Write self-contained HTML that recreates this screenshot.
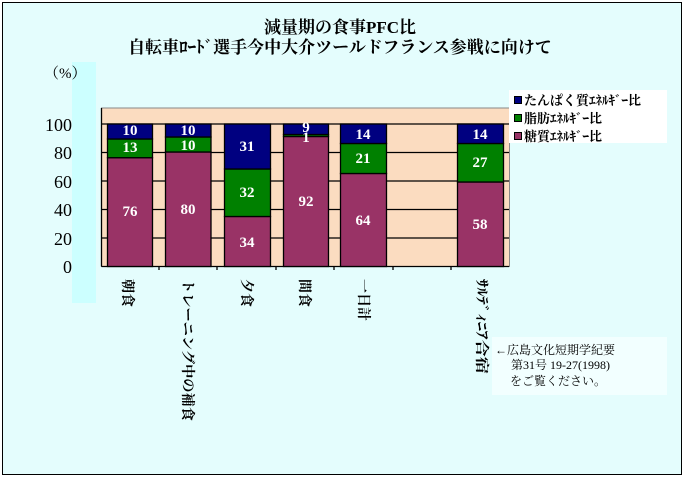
<!DOCTYPE html>
<html><head><meta charset="utf-8"><style>
html,body{margin:0;padding:0;background:#fff}
svg{display:block}
text{font-family:"Liberation Serif","Noto Serif CJK SC","Noto Sans CJK JP",serif}
.v{fill:#fff;font-size:15px;font-weight:bold;text-anchor:middle}
.ax{font-size:18px;text-anchor:end;fill:#000}
.cat{font-family:"Liberation Sans","Noto Sans CJK JP",sans-serif;font-size:14px;font-weight:bold;fill:#000}
</style></head><body>
<svg width="684" height="478" viewBox="0 0 684 478" xmlns="http://www.w3.org/2000/svg">
<rect x="0" y="0" width="684" height="478" fill="#fff"/>
<rect x="2.5" y="2.5" width="679" height="472" fill="#e4fdfd" stroke="#000" stroke-width="1"/>
<rect x="72" y="62" width="24" height="241" fill="#ccffff"/>
<text x="340" y="33" font-size="17" font-weight="bold" text-anchor="middle" font-family="Liberation Sans,Noto Sans CJK JP,sans-serif">減量期の食事PFC比</text>
<text x="340" y="53" font-size="17" font-weight="bold" text-anchor="middle" font-family="Liberation Sans,Noto Sans CJK JP,sans-serif">自転車ﾛｰﾄﾞ選手今中大介ツールドフランス参戦に向けて</text>
<text x="44" y="78" font-size="15" font-family="Liberation Sans,Noto Sans CJK JP,sans-serif">（%）</text>
<rect x="101.5" y="108" width="408" height="158.5" fill="#fbdcc0" stroke="#888" stroke-width="1"/>
<g stroke="#000" stroke-width="1.3">
<line x1="101.5" y1="124" x2="509" y2="124"/>
<line x1="101.5" y1="152.5" x2="509" y2="152.5"/>
<line x1="101.5" y1="181" x2="509" y2="181"/>
<line x1="101.5" y1="209.5" x2="509" y2="209.5"/>
<line x1="101.5" y1="238" x2="509" y2="238"/>
<line x1="101.5" y1="108" x2="101.5" y2="266.5"/>
<line x1="101.5" y1="266.5" x2="509" y2="266.5"/>
<line x1="159" y1="266" x2="159" y2="270"/><line x1="217" y1="266" x2="217" y2="270"/>
<line x1="276" y1="266" x2="276" y2="270"/><line x1="334" y1="266" x2="334" y2="270"/>
<line x1="393" y1="266" x2="393" y2="270"/><line x1="451" y1="266" x2="451" y2="270"/>
</g>
<g stroke="#000" stroke-width="1.3">
<rect x="107.5" y="157.7" width="45" height="108.8" fill="#993366"/>
<rect x="107.5" y="139" width="45" height="18.7" fill="#008000"/>
<rect x="107.5" y="124" width="45" height="15" fill="#000080"/>
<rect x="165.5" y="152" width="45.5" height="114.5" fill="#993366"/>
<rect x="165.5" y="137" width="45.5" height="15" fill="#008000"/>
<rect x="165.5" y="124" width="45.5" height="13" fill="#000080"/>
<rect x="224.5" y="216.5" width="46" height="50" fill="#993366"/>
<rect x="224.5" y="169" width="46" height="47.5" fill="#008000"/>
<rect x="224.5" y="124" width="46" height="45" fill="#000080"/>
<rect x="283.5" y="136.5" width="45" height="130" fill="#993366"/>
<rect x="283.5" y="134.5" width="45" height="2" fill="#008000"/>
<rect x="283.5" y="124" width="45" height="10.5" fill="#000080"/>
<rect x="340.5" y="173.5" width="46" height="93" fill="#993366"/>
<rect x="340.5" y="143.5" width="46" height="30" fill="#008000"/>
<rect x="340.5" y="124" width="46" height="19.5" fill="#000080"/>
<rect x="457.5" y="182" width="46" height="84.5" fill="#993366"/>
<rect x="457.5" y="143.5" width="46" height="38.5" fill="#008000"/>
<rect x="457.5" y="124" width="46" height="19.5" fill="#000080"/>
</g>
<g class="v">
<text x="130" y="135">10</text><text x="130" y="152">13</text><text x="130" y="216">76</text>
<text x="188" y="135">10</text><text x="188" y="150">10</text><text x="188" y="214">80</text>
<text x="247" y="151">31</text><text x="247" y="197">32</text><text x="247" y="247">34</text>
<text x="306" y="132">9</text><text x="306" y="142">1</text><text x="306" y="206">92</text>
<text x="363" y="139">14</text><text x="363" y="163">21</text><text x="363" y="225">64</text>
<text x="480" y="139">14</text><text x="480" y="167">27</text><text x="480" y="229">58</text>
</g>
<g class="ax">
<text x="72" y="131">100</text><text x="72" y="159">80</text><text x="72" y="188">60</text>
<text x="72" y="216">40</text><text x="72" y="245">20</text><text x="72" y="273">0</text>
</g>
<rect x="509" y="90" width="158" height="53" fill="#fff"/>
<g font-size="13" font-weight="bold" font-family="Liberation Sans,Noto Sans CJK JP,sans-serif">
<rect x="514.5" y="96.5" width="7" height="7" fill="#000080" stroke="#000"/>
<text x="524" y="105">たんぱく質ｴﾈﾙｷﾞｰ比</text>
<rect x="514.5" y="114.5" width="7" height="7" fill="#008000" stroke="#000"/>
<text x="524" y="123">脂肪ｴﾈﾙｷﾞｰ比</text>
<rect x="514.5" y="132.5" width="7" height="7" fill="#993366" stroke="#000"/>
<text x="524" y="141">糖質ｴﾈﾙｷﾞｰ比</text>
</g>
<rect x="492" y="337" width="175" height="58" fill="#f2ffff"/>
<g font-size="12" font-family="Liberation Sans,Noto Sans CJK JP,sans-serif">
<text x="495" y="354">←広島文化短期学紀要</text>
<text x="511" y="369">第31号  19-27(1998)</text>
<text x="510" y="385">をご覧ください。</text>
</g>
<g class="cat">
<text transform="translate(123,279) rotate(90)">朝食</text>
<text transform="translate(183,279) rotate(90)" textLength="142" lengthAdjust="spacingAndGlyphs">トレーニング中の補食</text>
<text transform="translate(242,279) rotate(90)">夕食</text>
<text transform="translate(300,279) rotate(90)">間食</text>
<text transform="translate(359,279) rotate(90)">一日計</text>
<text transform="translate(477,279) rotate(90)" textLength="95" lengthAdjust="spacingAndGlyphs">ｻﾙﾃﾞｨﾆｱ合宿</text>
</g>
</svg>
</body></html>
